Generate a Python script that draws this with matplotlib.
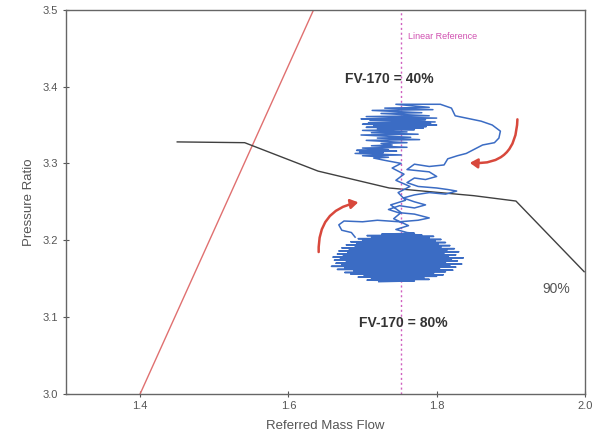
import matplotlib
matplotlib.use("Agg")
import matplotlib.pyplot as plt
from matplotlib.patches import FancyArrowPatch

plt.rcParams["font.family"] = ["Liberation Sans", "DejaVu Sans"]

# ---------------------------------------------------------------------------
# Data
# ---------------------------------------------------------------------------

# surge line
surge_x = [1.40, 1.634]
surge_y = [3.00, 3.50]

# 90% speed line
speed_x = [1.450, 1.541, 1.640, 1.736, 1.850, 1.907, 1.999]
speed_y = [3.328, 3.327, 3.290, 3.268, 3.258, 3.251, 3.159]

linear_ref_x = 1.752

# FV-170 = 80% operating blob (zigzag rows)
blob_x = [1.722, 1.770, 1.706, 1.790, 1.712, 1.783, 1.694, 1.800, 1.702, 1.809,
          1.684, 1.796, 1.676, 1.812, 1.688, 1.822, 1.666, 1.804, 1.676, 1.826,
          1.658, 1.818, 1.672, 1.834, 1.664, 1.812, 1.678, 1.828, 1.662, 1.820,
          1.670, 1.836, 1.660, 1.816, 1.674, 1.826, 1.666, 1.810, 1.680, 1.830,
          1.668, 1.814, 1.682, 1.824, 1.672, 1.806, 1.690, 1.818, 1.678, 1.802,
          1.692, 1.812, 1.684, 1.798, 1.700, 1.806, 1.694, 1.790, 1.712, 1.796,
          1.706, 1.780, 1.726, 1.770]
blob_y = [3.146, 3.147, 3.148, 3.149, 3.150, 3.151, 3.152, 3.153, 3.154, 3.155,
          3.156, 3.157, 3.158, 3.159, 3.160, 3.161, 3.162, 3.163, 3.164, 3.165,
          3.166, 3.167, 3.168, 3.169, 3.170, 3.171, 3.172, 3.173, 3.174, 3.175,
          3.176, 3.177, 3.178, 3.179, 3.180, 3.181, 3.182, 3.183, 3.184, 3.185,
          3.186, 3.187, 3.188, 3.189, 3.190, 3.191, 3.192, 3.193, 3.194, 3.195,
          3.196, 3.197, 3.198, 3.199, 3.200, 3.201, 3.202, 3.203, 3.204, 3.205,
          3.206, 3.207, 3.208, 3.209]

# transition 80% -> 40% (up strand)
up_x = [1.760, 1.745, 1.762, 1.742, 1.752, 1.738, 1.758, 1.748, 1.764, 1.745,
        1.756, 1.740, 1.752, 1.730, 1.715]
up_y = [3.210, 3.214, 3.219, 3.228, 3.236, 3.246, 3.252, 3.262, 3.270, 3.278,
        3.286, 3.294, 3.300, 3.304, 3.307]

# FV-170 = 40% operating cluster (zigzag rows, bottom to top)
upper_x = [1.715, 1.735, 1.700, 1.752, 1.690, 1.728, 1.696, 1.746, 1.692, 1.735,
           1.700, 1.760, 1.712, 1.740, 1.725, 1.760, 1.705, 1.777, 1.720, 1.765,
           1.698, 1.775, 1.712, 1.760, 1.700, 1.770, 1.720, 1.782, 1.705, 1.786,
           1.715, 1.800, 1.700, 1.792, 1.708, 1.798, 1.710, 1.785, 1.698, 1.800,
           1.705, 1.790, 1.725, 1.780, 1.713, 1.795, 1.730, 1.790, 1.745, 1.805]
upper_y = [3.307, 3.308, 3.310, 3.311, 3.313, 3.314, 3.315, 3.316, 3.317, 3.318,
           3.320, 3.321, 3.323, 3.324, 3.326, 3.327, 3.330, 3.331, 3.333, 3.334,
           3.337, 3.338, 3.340, 3.341, 3.343, 3.344, 3.345, 3.346, 3.347, 3.348,
           3.349, 3.350, 3.351, 3.352, 3.353, 3.354, 3.356, 3.357, 3.358, 3.359,
           3.361, 3.362, 3.365, 3.366, 3.369, 3.370, 3.372, 3.373, 3.377, 3.377]

# transition 40% -> 80% (right loop and down strand)
down_x = [1.820, 1.825, 1.845, 1.860, 1.875, 1.886, 1.884, 1.878, 1.862, 1.850,
          1.840, 1.828, 1.815, 1.810, 1.790, 1.770, 1.760, 1.790, 1.800, 1.785,
          1.770, 1.760, 1.775, 1.800, 1.815, 1.827, 1.812, 1.790, 1.770, 1.755,
          1.770, 1.785, 1.770, 1.750, 1.735, 1.748, 1.770, 1.790, 1.775, 1.750,
          1.720, 1.700, 1.675, 1.668, 1.672, 1.685, 1.690]
down_y = [3.372, 3.362, 3.358, 3.355, 3.350, 3.342, 3.333, 3.327, 3.324, 3.318,
          3.313, 3.310, 3.306, 3.298, 3.296, 3.299, 3.292, 3.289, 3.283, 3.279,
          3.281, 3.275, 3.270, 3.268, 3.266, 3.264, 3.260, 3.262, 3.259, 3.255,
          3.250, 3.246, 3.242, 3.245, 3.240, 3.236, 3.234, 3.229, 3.226, 3.224,
          3.226, 3.224, 3.225, 3.220, 3.213, 3.210, 3.204]

# curved arrows (tail, head)
arrow_left = [(1.641, 3.181), (1.698, 3.250)]
arrow_right = [(1.909, 3.361), (1.841, 3.301)]

x_ticks = [1.4, 1.6, 1.8, 2.0]
y_ticks = [3.0, 3.1, 3.2, 3.3, 3.4, 3.5]

BLUE = "#3b6cc4"
GREY = "#555555"


def main() -> None:
    fig = plt.figure(figsize=(5.95, 4.46), dpi=100)
    ax = fig.add_axes([0.111, 0.117, 0.872, 0.861])

    ax.plot(surge_x, surge_y, color="#e07070", linewidth=1.0)
    ax.plot(speed_x, speed_y, color="#404040", linewidth=1.0)
    ax.axvline(linear_ref_x, color="#d060c0", linestyle=(0, (1.5, 2.0)), linewidth=1.0)

    traj_x = blob_x + up_x + upper_x + down_x
    traj_y = blob_y + up_y + upper_y + down_y
    ax.plot(traj_x, traj_y, color=BLUE, linewidth=1.1, zorder=3)

    for (tail, head), rad in [(arrow_left, -0.45), (arrow_right, -0.55)]:
        ax.add_patch(FancyArrowPatch(
            tail, head, connectionstyle=f"arc3,rad={rad}",
            arrowstyle="-|>,head_length=4.5,head_width=2.8",
            color="#d8483c", linewidth=1.8, zorder=4,
        ))

    ax.text(1.762, 3.462, "Linear Reference", color="#d050b0", fontsize=6.5)
    ax.text(1.736, 3.410, "FV-170 = 40%", color="#333333", fontsize=10,
            fontweight="bold", ha="center", va="center")
    ax.text(1.755, 3.092, "FV-170 = 80%", color="#333333", fontsize=10,
            fontweight="bold", ha="center", va="center")
    ax.text(1.962, 3.137, "90%", color=GREY, fontsize=10, ha="center", va="center")

    ax.set_xlim(1.3, 2.0)
    ax.set_ylim(3.0, 3.5)
    ax.set_xticks(x_ticks)
    ax.set_xticklabels([f"{v:.1f}" for v in x_ticks])
    ax.set_yticks(y_ticks)
    ax.set_yticklabels([f"{v:.1f}" for v in y_ticks])
    ax.tick_params(colors=GREY, labelsize=8, direction="inout", length=4, width=0.8)
    for s in ax.spines.values():
        s.set_color("#666666")
        s.set_linewidth(1.0)
    ax.set_xlabel("Referred Mass Flow", color=GREY, fontsize=9.5, labelpad=6)
    ax.set_ylabel("Pressure Ratio", color=GREY, fontsize=9.5, labelpad=6)

    fig.savefig("out.png", dpi=100)
    plt.close(fig)


if __name__ == "__main__":
    main()
